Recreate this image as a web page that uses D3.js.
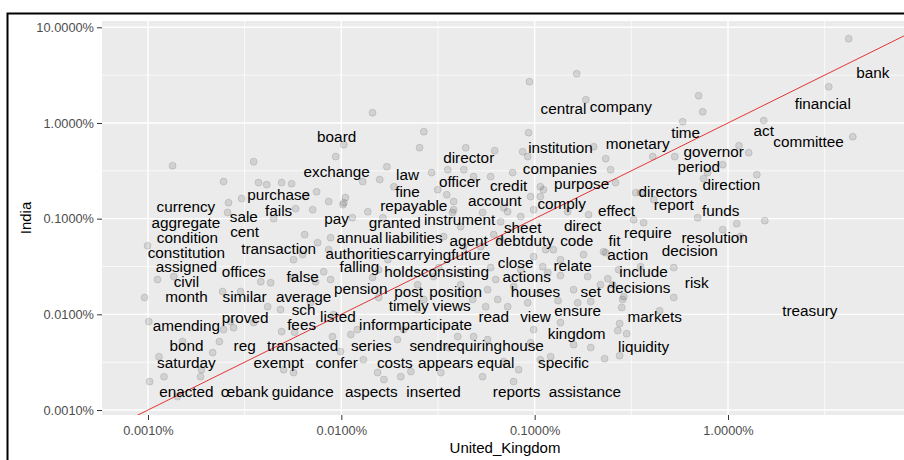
<!DOCTYPE html>
<html><head><meta charset="utf-8">
<script src="https://cdn.jsdelivr.net/npm/d3@7"></script>
<style>body{margin:0;background:#fff}svg{display:block}</style>
</head><body>
<script>
// ---------- data (values in percent) ----------
const xTicks = [0.001, 0.01, 0.1, 1];
const xTickLabels = ["0.0010%", "0.0100%", "0.1000%", "1.0000%"];
const yTicks = [0.001, 0.01, 0.1, 1, 10];
const yTickLabels = ["0.0010%", "0.0100%", "0.1000%", "1.0000%", "10.0000%"];
const minorBreaks = [0.00316, 0.0316, 0.316, 3.16];
const xTitle = "United_Kingdom";
const yTitle = "India";

const words = ["bank","financial","act","committee","time","monetary","governor","period","direction","directors","report","funds","company","central","board","institution","director","exchange","law","companies","officer","credit","purpose","fine","purchase","account","comply","repayable","currency","fails","effect","sale","pay","granted","instrument","aggregate","sheet","direct","cent","require","condition","annual","liabilities","agent","debtduty","code","fit","resolution","transaction","decision","constitution","authorities","carryingfuture","action","close","relate","assigned","falling","holdsconsisting","offices","include","false","actions","civil","risk","pension","decisions","post","position","houses","set","month","similar","average","timely","views","sch","treasury","ensure","proved","listed","read","view","markets","amending","fees","informparticipate","kingdom","bond","reg","transacted","series","sendrequiringhouse","liquidity","saturday","exempt","confer","costs","appears","equal","specific","enacted","œbank","guidance","aspects","inserted","reports","assistance"];
const wordUK = [5.61,3.09,1.53,2.61,0.604,0.341,0.843,0.705,1.04,0.488,0.524,0.916,0.279,0.141,0.00946,0.136,0.0456,0.00946,0.0220,0.135,0.0409,0.0733,0.175,0.0220,0.00474,0.0621,0.138,0.0237,0.00157,0.00474,0.265,0.00313,0.00946,0.0189,0.0409,0.00157,0.0867,0.177,0.00316,0.385,0.0016,0.0124,0.0237,0.0456,0.0887,0.165,0.259,0.853,0.00474,0.634,0.00158,0.0126,0.0338,0.303,0.0797,0.157,0.00158,0.0124,0.0311,0.00313,0.366,0.00631,0.0909,0.00158,0.689,0.0126,0.345,0.0223,0.0390,0.101,0.195,0.00158,0.00316,0.00638,0.0223,0.0372,0.00638,2.65,0.167,0.00318,0.0096,0.0614,0.101,0.418,0.00158,0.00623,0.0242,0.165,0.00158,0.00316,0.00631,0.0143,0.0501,0.366,0.00158,0.00474,0.00946,0.0189,0.0346,0.0628,0.141,0.00158,0.00316,0.00631,0.0143,0.0300,0.0807,0.182];
const wordIN = [3.36,1.59,0.831,0.638,0.792,0.608,0.501,0.349,0.226,0.191,0.140,0.121,1.48,1.41,0.719,0.552,0.434,0.310,0.288,0.333,0.244,0.221,0.232,0.191,0.178,0.154,0.144,0.137,0.133,0.121,0.121,0.105,0.100,0.0908,0.0976,0.0908,0.0805,0.0845,0.0731,0.0714,0.0633,0.0633,0.0633,0.0589,0.0589,0.0589,0.0589,0.0633,0.0486,0.0463,0.0441,0.0431,0.0421,0.0421,0.0347,0.0323,0.0315,0.0315,0.0279,0.0279,0.0279,0.0248,0.0248,0.0220,0.0214,0.0186,0.0190,0.0173,0.0173,0.0173,0.0173,0.0153,0.0153,0.0153,0.0123,0.0123,0.0112,0.0109,0.0109,0.00924,0.00946,0.00946,0.00946,0.00946,0.00762,0.0078,0.0078,0.00628,0.00471,0.00471,0.00471,0.00471,0.00471,0.0046,0.00313,0.00313,0.00313,0.00313,0.00313,0.00313,0.00313,0.00156,0.00156,0.00156,0.00156,0.00156,0.00156,0.00156];

const pointUK = [0.00134,0.00352,0.00246,0.00373,0.00411,0.00491,0.00553,0.00261,0.00305,0.0058,0.00447,0.00258,0.00745,0.00935,0.0105,0.165,0.094,0.184,0.0145,0.0267,0.093,0.0103,0.0254,0.044,0.0621,0.0867,0.092,0.0172,0.0158,0.0129,0.0293,0.0355,0.043,0.0483,0.0592,0.0769,0.202,0.00653,0.00711,0.0103,0.0187,0.0315,0.0351,0.0381,0.0538,0.0691,0.0953,0.111,0.148,4.21,3.32,0.705,0.740,0.583,1.53,4.42,1.14,1.28,0.530,0.408,0.233,0.247,0.939,0.785,1.41,0.262,0.333,0.413,0.697,1.11,1.55,0.366,0.325,0.107,0.353,0.748,0.190,0.939,0.227,0.114,0.179,0.136,0.272,0.353,0.524,0.110,0.136,0.188,0.253,0.159,0.107,0.285,0.524,0.195,0.132,0.289,0.282,0.219,0.239,0.443,0.275,0.269,0.299,0.230,0.275,0.233,1.16,0.00096,0.00101,0.00151,0.00114,0.00121,0.00102,0.00189,0.00187,0.00234,0.00216,0.00277,0.00267,0.00246,0.00352,0.00416,0.00485,0.00491,0.00573,0.00431,0.00383,0.00301,0.00243,0.000995,0.00112,0.00136,0.00566,0.00566,0.00503,0.00566,0.00142,0.00646,0.00631,0.00736,0.00694,0.00912,0.0121,0.0090,0.0099,0.0112,0.0130,0.0154,0.0166,0.0195,0.0210,0.0203,0.0229,0.0327,0.0359,0.0400,0.0483,0.0571,0.0248,0.0267,0.0478,0.0558,0.0644,0.0725,0.0538,0.0691,0.0826,0.0953,0.107,0.121,0.159,0.136,0.167,0.195,0.0778,0.0988,0.0614,0.0592,0.0629,0.117,0.125,0.0571,0.0248,0.0300,0.0414,0.0174,0.0145,0.0081,0.00754,0.0114,0.0137,0.0164,0.0102,0.0086,0.0381,0.0376,0.0414,0.0667,0.0725,0.0847,0.0988,0.107,0.0338,0.043,0.0526,0.0667,0.0847,0.0988,0.0088,0.0086,0.0156,0.0319,0.043,0.0778,0.0920,0.0156,0.0088];
const pointIN = [0.358,0.394,0.244,0.238,0.227,0.238,0.232,0.147,0.162,0.127,0.100,0.116,0.191,0.445,0.166,3.27,2.70,1.75,1.28,0.811,0.792,0.593,0.552,0.552,0.514,0.501,0.445,0.349,0.256,0.244,0.303,0.325,0.325,0.275,0.275,0.303,0.565,0.170,0.124,0.147,0.216,0.201,0.178,0.124,0.116,0.130,0.170,0.201,0.118,7.60,2.39,1.93,1.31,1.03,1.06,0.719,0.579,0.489,0.445,0.445,0.424,0.325,0.367,0.303,0.288,0.238,0.187,0.158,0.102,0.0887,0.0953,0.0908,0.0976,0.216,0.187,0.262,0.110,0.0767,0.0452,0.0474,0.0421,0.0373,0.0293,0.0315,0.0308,0.0315,0.0254,0.0248,0.0204,0.0181,0.0169,0.0143,0.0150,0.0136,0.0139,0.0153,0.0118,0.0204,0.0236,0.0109,0.0080,0.00676,0.00628,0.00344,0.0037,0.0441,0.0649,0.0150,0.00839,0.00519,0.00361,0.00223,0.00198,0.00264,0.00223,0.00519,0.00398,0.00726,0.00839,0.00692,0.00819,0.0120,0.0112,0.0066,0.0065,0.0214,0.0219,0.0173,0.0173,0.0522,0.0231,0.0248,0.0373,0.0242,0.00264,0.00246,0.00138,0.0681,0.0421,0.0219,0.0132,0.00993,0.00692,0.00585,0.00408,0.00614,0.00336,0.00246,0.00208,0.00544,0.00692,0.00223,0.00252,0.00246,0.00449,0.00585,0.00585,0.00544,0.0112,0.0143,0.0143,0.0120,0.0143,0.0120,0.00223,0.00321,0.00264,0.00506,0.00336,0.00361,0.00482,0.00819,0.0132,0.00449,0.00198,0.00692,0.0681,0.0308,0.0231,0.0273,0.0474,0.0181,0.0204,0.0248,0.0204,0.0373,0.0242,0.0279,0.0561,0.1024,0.118,0.102,0.140,0.151,0.151,0.116,0.0825,0.0930,0.118,0.105,0.124,0.170,0.0649,0.0510,0.0510,0.0603,0.0293,0.0401,0.0633,0.0474,0.0293,0.0308,0.0273,0.0195,0.0132,0.0150,0.0231];

// ---------- layout ----------
const W = 904, H = 460;
const panel = {left: 102, top: 21, right: 912, bottom: 415};
const x = d3.scaleLog().domain([0.001, 1]).range([148, 728]);
const y = d3.scaleLog().domain([0.001, 10]).range([410, 27.3]);
const FONT = "'Liberation Sans', Arial, sans-serif";

const svg = d3.select("body").append("svg").attr("width", W).attr("height", H)
  .style("font-family", FONT);

svg.append("rect").attr("width", W).attr("height", H).attr("fill", "#fff");

svg.append("defs").append("clipPath").attr("id", "clip")
  .append("rect").attr("x", panel.left).attr("y", panel.top)
  .attr("width", panel.right - panel.left).attr("height", panel.bottom - panel.top);

svg.append("rect").attr("x", panel.left).attr("y", panel.top)
  .attr("width", panel.right - panel.left).attr("height", panel.bottom - panel.top)
  .attr("fill", "#ebebeb");

const g = svg.append("g").attr("clip-path", "url(#clip)");

// minor grid
g.selectAll(".vmin").data(minorBreaks).join("line")
  .attr("x1", d => x(d)).attr("x2", d => x(d)).attr("y1", panel.top).attr("y2", panel.bottom)
  .attr("stroke", "#fff").attr("stroke-width", 0.7);
g.selectAll(".hmin").data(minorBreaks).join("line")
  .attr("y1", d => y(d)).attr("y2", d => y(d)).attr("x1", panel.left).attr("x2", panel.right)
  .attr("stroke", "#fff").attr("stroke-width", 0.7);
// major grid
g.selectAll(".vmaj").data(xTicks).join("line")
  .attr("x1", d => x(d)).attr("x2", d => x(d)).attr("y1", panel.top).attr("y2", panel.bottom)
  .attr("stroke", "#fff").attr("stroke-width", 1.4);
g.selectAll(".hmaj").data(yTicks).join("line")
  .attr("y1", d => y(d)).attr("y2", d => y(d)).attr("x1", panel.left).attr("x2", panel.right)
  .attr("stroke", "#fff").attr("stroke-width", 1.4);

// points
g.selectAll("circle.pt").data(pointUK).join("circle")
  .attr("cx", d => x(d)).attr("cy", (d, i) => y(pointIN[i])).attr("r", 3.5)
  .attr("fill", "rgba(0,0,0,0.11)").attr("stroke", "rgba(0,0,0,0.14)").attr("stroke-width", 0.8);

// abline y = x
const lineDom = [0.0001, 100];
g.append("line").attr("x1", x(lineDom[0])).attr("y1", y(lineDom[0]))
  .attr("x2", x(lineDom[1])).attr("y2", y(lineDom[1]))
  .attr("stroke", "#e02020").attr("stroke-width", 0.9);

// word labels
g.selectAll("text.w").data(words).join("text")
  .attr("x", (d, i) => x(wordUK[i])).attr("y", (d, i) => y(wordIN[i]))
  .attr("dy", "0.35em").attr("text-anchor", "middle")
  .attr("font-size", "15.3px").attr("fill", "#000").text(d => d);

// axes
const xAxis = svg.append("g").attr("transform", `translate(0,${panel.bottom})`)
  .call(d3.axisBottom(x).tickValues(xTicks).tickFormat((d, i) => xTickLabels[i]).tickSize(5).tickPadding(6));
const yAxis = svg.append("g").attr("transform", `translate(${panel.left},0)`)
  .call(d3.axisLeft(y).tickValues(yTicks).tickFormat((d, i) => yTickLabels[i]).tickSize(5).tickPadding(3));
[xAxis, yAxis].forEach(a => {
  a.select(".domain").remove();
  a.selectAll(".tick line").attr("stroke", "#333").attr("stroke-width", 1);
  a.selectAll(".tick text").attr("fill", "#4d4d4d").attr("font-size", "12.8px")
    .attr("font-family", FONT);
});

// titles
svg.append("text").attr("x", 505).attr("y", 448).attr("dy", "0.35em").attr("text-anchor", "middle")
  .attr("font-size", "15px").attr("fill", "#000").text(xTitle);
svg.append("text").attr("transform", "translate(26,218) rotate(-90)").attr("dy", "0.35em")
  .attr("text-anchor", "middle").attr("font-size", "15px").attr("fill", "#000").text(yTitle);

// outer frame
svg.append("rect").attr("x", 7.5).attr("y", 13.5).attr("width", 1000).attr("height", 1000)
  .attr("fill", "none").attr("stroke", "#000").attr("stroke-width", 2);
</script>
</body></html>
